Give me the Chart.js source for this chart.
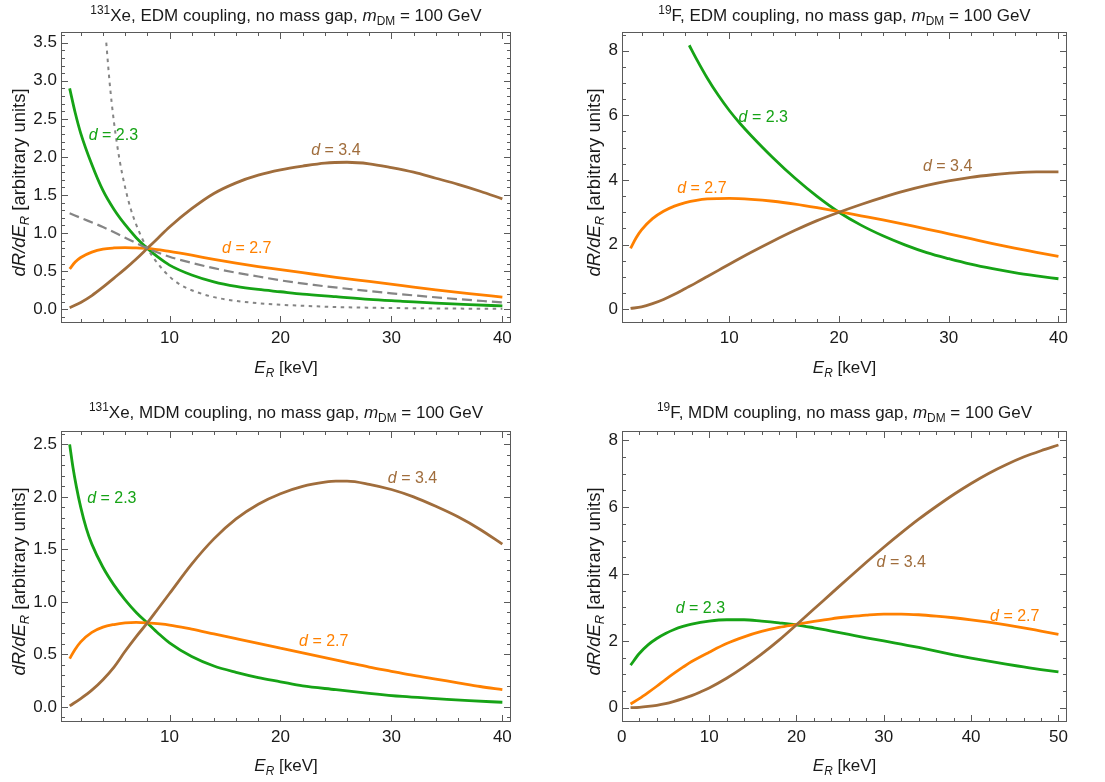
<!DOCTYPE html>
<html><head><meta charset="utf-8">
<script src="https://cdn.jsdelivr.net/npm/chart.js@4.4.0/dist/chart.umd.min.js"></script>
<style>
html,body{margin:0;padding:0;background:#fff;}
#wrap{position:relative;width:1105px;height:782px;overflow:hidden;background:#fff;}
canvas{position:absolute;}
</style></head><body>
<div id="wrap">
<canvas id="c1" width="552" height="391" style="left:0;top:0"></canvas>
<canvas id="c2" width="553" height="391" style="left:552px;top:0"></canvas>
<canvas id="c3" width="552" height="391" style="left:0;top:391px"></canvas>
<canvas id="c4" width="553" height="391" style="left:552px;top:391px"></canvas>
</div>
<script>
// ---------------- DATA ----------------
// Panel A: 131Xe, EDM coupling
const A_x23 = [1,1.5,2,3,4,5,6,7,8,9,10,12,14,16,18,20,22,25,28,31,34,37,40];
const A_y23 = [2.90,2.58,2.31,1.90,1.56,1.31,1.11,0.94,0.80,0.68,0.58,0.45,0.36,0.30,0.26,0.23,0.20,0.165,0.13,0.105,0.08,0.06,0.045];
const A_x27 = [1,1.5,2,3,4,5,6,7,8,10,12,14,16,18,20,22,25,28,31,34,37,40];
const A_y27 = [0.53,0.62,0.68,0.75,0.79,0.805,0.81,0.805,0.80,0.76,0.71,0.655,0.605,0.56,0.52,0.48,0.42,0.365,0.31,0.255,0.205,0.16];
const A_x34 = [1,2,3,4,5,6,7,8,9,10,12,14,16,18,20,22,24,26,28,30,32,34,36,38,40];
const A_y34 = [0.02,0.09,0.18,0.29,0.41,0.53,0.66,0.80,0.94,1.08,1.32,1.52,1.66,1.76,1.83,1.88,1.92,1.93,1.91,1.86,1.80,1.72,1.64,1.55,1.45];
const A_xDash = [1,2,4,6,8,10,12,14,16,18,20,23,26,30,35,40];
const A_yDash = [1.26,1.20,1.08,0.94,0.80,0.69,0.61,0.54,0.48,0.43,0.38,0.32,0.27,0.21,0.145,0.09];
const A_xDot = [4.3,4.6,5,5.5,6,6.5,7,7.5,8,9,10,11,12,14,16,18,20,25,30,35,40];
const A_yDot = [3.5,2.98,2.45,1.96,1.60,1.32,1.11,0.94,0.80,0.59,0.43,0.32,0.25,0.16,0.11,0.08,0.06,0.03,0.017,0.01,0.006];
const A_xticks = [10,20,30,40];
const A_yticks = [0,0.5,1,1.5,2,2.5,3,3.5];

// Panel B: 19F, EDM coupling
const B_x23 = [6.35,7,8,9,10,11,12,14,16,18,20,22,24,26,28,30,32,34,36,38,40];
const B_y23 = [8.17,7.75,7.15,6.62,6.15,5.74,5.37,4.68,4.05,3.49,3.00,2.60,2.27,1.99,1.75,1.56,1.39,1.25,1.13,1.03,0.94];
const B_x27 = [1,1.5,2,3,4,5,6,7,8,10,12,14,16,18,20,22,24,26,28,30,32,34,36,38,40];
const B_y27 = [1.88,2.20,2.45,2.80,3.03,3.19,3.30,3.37,3.41,3.43,3.40,3.34,3.25,3.14,3.02,2.89,2.76,2.62,2.48,2.33,2.18,2.03,1.89,1.76,1.63];
const B_x34 = [1,2,3,4,5,6,7,8,9,10,12,14,16,18,20,22,24,26,28,30,32,34,36,38,40];
const B_y34 = [0.02,0.07,0.17,0.30,0.46,0.64,0.82,1.01,1.20,1.39,1.76,2.11,2.44,2.74,3.00,3.24,3.46,3.66,3.83,3.97,4.08,4.16,4.22,4.25,4.25];
const B_xticks = [10,20,30,40];
const B_yticks = [0,2,4,6,8];

// Panel C: 131Xe, MDM coupling
const C_x23 = [1,1.3,1.6,2,2.5,3,4,5,6,7,8,9,10,12,14,16,18,20,22,25,28,31,34,37,40];
const C_y23 = [2.50,2.28,2.10,1.90,1.70,1.55,1.33,1.16,1.02,0.90,0.80,0.70,0.61,0.48,0.39,0.33,0.28,0.24,0.20,0.165,0.13,0.10,0.08,0.06,0.045];
const C_x27 = [1,1.5,2,3,4,5,6,7,8,10,12,14,16,18,20,22,24,26,28,30,32,34,36,38,40];
const C_y27 = [0.46,0.55,0.62,0.71,0.76,0.785,0.80,0.805,0.80,0.78,0.74,0.695,0.65,0.605,0.56,0.515,0.47,0.425,0.38,0.34,0.30,0.265,0.23,0.195,0.165];
const C_x34 = [1,2,3,4,5,6,7,8,9,10,12,14,16,18,20,22,24,25,26,28,30,32,34,36,38,40];
const C_y34 = [0.01,0.08,0.16,0.26,0.38,0.53,0.67,0.80,0.94,1.08,1.36,1.60,1.79,1.93,2.03,2.10,2.14,2.15,2.15,2.12,2.07,2.00,1.91,1.81,1.69,1.55];
const C_xticks = [10,20,30,40];
const C_yticks = [0,0.5,1,1.5,2,2.5];

// Panel D: 19F, MDM coupling
const D_x23 = [1,2,3,4,5,6,7,8,10,12,14,16,18,20,22,24,26,28,30,32,34,36,38,40,42,44,46,48,50];
const D_y23 = [1.27,1.62,1.88,2.07,2.22,2.34,2.43,2.50,2.59,2.63,2.63,2.59,2.54,2.48,2.39,2.29,2.19,2.09,2.00,1.90,1.80,1.69,1.58,1.48,1.39,1.30,1.22,1.14,1.07];
const D_x27 = [1,2,3,4,5,6,7,8,10,12,14,16,18,20,22,24,26,28,30,32,34,36,38,40,42,44,46,48,50];
const D_y27 = [0.11,0.27,0.45,0.64,0.84,1.03,1.21,1.38,1.66,1.92,2.12,2.28,2.40,2.49,2.58,2.66,2.72,2.77,2.80,2.80,2.78,2.74,2.69,2.63,2.56,2.48,2.39,2.29,2.19];
const D_x34 = [1,2,3,4,5,6,7,8,9,10,12,14,16,18,20,22,24,26,28,30,32,34,36,38,40,42,44,46,48,50];
const D_y34 = [0.0,0.01,0.035,0.07,0.12,0.19,0.27,0.36,0.47,0.59,0.88,1.22,1.60,2.02,2.48,2.95,3.42,3.89,4.35,4.80,5.23,5.64,6.02,6.38,6.71,7.01,7.27,7.50,7.69,7.86];
const D_xticks = [0,10,20,30,40,50];
const D_yticks = [0,2,4,6,8];

// Text
const TITLE_A = [{t:'131',sup:1},{t:'Xe, EDM coupling, no mass gap, '},{t:'m',it:1},{t:'DM',sub:1},{t:' = 100 GeV'}];
const TITLE_B = [{t:'19',sup:1},{t:'F, EDM coupling, no mass gap, '},{t:'m',it:1},{t:'DM',sub:1},{t:' = 100 GeV'}];
const TITLE_C = [{t:'131',sup:1},{t:'Xe, MDM coupling, no mass gap, '},{t:'m',it:1},{t:'DM',sub:1},{t:' = 100 GeV'}];
const TITLE_D = [{t:'19',sup:1},{t:'F, MDM coupling, no mass gap, '},{t:'m',it:1},{t:'DM',sub:1},{t:' = 100 GeV'}];
const X_TITLE = [{t:'E',it:1},{t:'R',it:1,sub:1},{t:' [keV]'}];
const Y_TITLE = [{t:'dR/dE',it:1},{t:'R',it:1,sub:1},{t:' [arbitrary units]'}];
const LBL_23 = [{t:'d',it:1},{t:' = 2.3'}];
const LBL_27 = [{t:'d',it:1},{t:' = 2.7'}];
const LBL_34 = [{t:'d',it:1},{t:' = 3.4'}];

// ---------------- STYLE ----------------
const FONT = "'Liberation Sans', Arial, Helvetica, sans-serif";
const GREEN = '#16a316', ORANGE = '#ff8000', BROWN = '#a06d3c', GRAY = '#858585';
const FRAME = '#5a5a5a', TEXT = '#1a1a1a';

function pts(xs, ys){ return xs.map((x,i)=>({x:x, y:ys[i]})); }
function line(xs, ys, color, extra){
  return Object.assign({data: pts(xs,ys), borderColor: color, borderWidth: 2.8, pointRadius: 0,
    fill: false, cubicInterpolationMode: 'monotone', borderCapStyle: 'butt'}, extra||{});
}
function segFont(s, size){
  const sz = (s.sup||s.sub) ? size*0.7 : size;
  return (s.it ? 'italic ' : '') + sz.toFixed(2) + 'px ' + FONT;
}
function drawRich(ctx, segs, cx, cy, size, color, rot){
  ctx.save();
  ctx.translate(cx, cy); if (rot) ctx.rotate(rot);
  let w = 0;
  for (const s of segs){ ctx.font = segFont(s,size); w += ctx.measureText(s.t).width; }
  let x = -w/2; const base = size*0.36;
  ctx.fillStyle = color; ctx.textBaseline = 'alphabetic'; ctx.textAlign = 'left';
  for (const s of segs){
    ctx.font = segFont(s,size);
    const dy = s.sup ? -size*0.40 : (s.sub ? size*0.22 : 0);
    ctx.fillText(s.t, x, base+dy);
    x += ctx.measureText(s.t).width;
  }
  ctx.restore();
}
function steps(min, max, step){
  const out = []; let v = Math.ceil(min/step - 1e-9);
  for (; v*step <= max + 1e-9; v++) out.push(+(v*step).toFixed(6));
  return out;
}

const panels = [
 { id:'c1', w:552, h:391, f:{l:61,t:32,r:511,b:323}, xr:[0.22,40.78], yr:[-0.18,3.64],
   xt:A_xticks, yt:A_yticks, xm:2, ym:0.1, dec:1, title:TITLE_A, titleY:15, xTitleY:367, yTitleX:18,
   ds:[ line(A_xDot,A_yDot,GRAY,{borderWidth:2,borderDash:[3.5,4.5]}),
        line(A_xDash,A_yDash,GRAY,{borderWidth:2.2,borderDash:[10,5]}),
        line(A_x34,A_y34,BROWN), line(A_x27,A_y27,ORANGE), line(A_x23,A_y23,GREEN) ],
   labels:[ {s:LBL_23,x:4.94,y:2.30,c:GREEN}, {s:LBL_34,x:25.0,y:2.10,c:BROWN}, {s:LBL_27,x:16.96,y:0.81,c:ORANGE} ] },
 { id:'c2', w:553, h:391, f:{l:70,t:32,r:515,b:323}, xr:[0.22,40.78], yr:[-0.43,8.58],
   xt:B_xticks, yt:B_yticks, xm:2, ym:0.5, dec:0, title:TITLE_B, titleY:15, xTitleY:367, yTitleX:41,
   ds:[ line(B_x34,B_y34,BROWN), line(B_x27,B_y27,ORANGE), line(B_x23,B_y23,GREEN) ],
   labels:[ {s:LBL_23,x:13.1,y:5.98,c:GREEN}, {s:LBL_27,x:7.5,y:3.78,c:ORANGE}, {s:LBL_34,x:29.9,y:4.47,c:BROWN} ] },
 { id:'c3', w:552, h:391, f:{l:61,t:40,r:511,b:331}, xr:[0.22,40.78], yr:[-0.143,2.627],
   xt:C_xticks, yt:C_yticks, xm:2, ym:0.1, dec:1, title:TITLE_C, titleY:20.7, xTitleY:374, yTitleX:18,
   ds:[ line(C_x34,C_y34,BROWN), line(C_x27,C_y27,ORANGE), line(C_x23,C_y23,GREEN) ],
   labels:[ {s:LBL_23,x:4.8,y:2.0,c:GREEN}, {s:LBL_34,x:31.9,y:2.19,c:BROWN}, {s:LBL_27,x:23.9,y:0.64,c:ORANGE} ] },
 { id:'c4', w:553, h:391, f:{l:70,t:40,r:515,b:331}, xr:[0.02,50.98], yr:[-0.43,8.28],
   xt:D_xticks, yt:D_yticks, xm:2, ym:0.5, dec:0, title:TITLE_D, titleY:20.7, xTitleY:374, yTitleX:41,
   ds:[ line(D_x34,D_y34,BROWN), line(D_x27,D_y27,ORANGE), line(D_x23,D_y23,GREEN) ],
   labels:[ {s:LBL_23,x:9.0,y:3.0,c:GREEN}, {s:LBL_34,x:32.0,y:4.39,c:BROWN}, {s:LBL_27,x:45.0,y:2.78,c:ORANGE} ] }
];

function decor(p){
  return {
    id: 'decor_'+p.id,
    afterDraw(chart){
      const ctx = chart.ctx, a = chart.chartArea, xs = chart.scales.x, ys = chart.scales.y;
      ctx.save();
      ctx.strokeStyle = FRAME; ctx.lineWidth = 1;
      const xAll = steps(p.xr[0], p.xr[1], p.xm);
      ctx.beginPath();
      for (const v of xAll){
        const px = Math.round(xs.getPixelForValue(v)) + 0.5;
        const len = p.xt.indexOf(v) >= 0 ? 7 : 4;
        ctx.moveTo(px, a.bottom); ctx.lineTo(px, a.bottom - len);
        ctx.moveTo(px, a.top); ctx.lineTo(px, a.top + len);
      }
      const yAll = steps(p.yr[0], p.yr[1], p.ym);
      for (const v of yAll){
        const py = Math.round(ys.getPixelForValue(v)) + 0.5;
        const maj = p.yt.some(t => Math.abs(t - v) < 1e-6);
        const len = maj ? 7 : 4;
        ctx.moveTo(a.left, py); ctx.lineTo(a.left + len, py);
        ctx.moveTo(a.right, py); ctx.lineTo(a.right - len, py);
      }
      ctx.stroke();
      ctx.strokeRect(a.left + 0.5, a.top + 0.5, a.right - a.left - 1, a.bottom - a.top - 1);
      ctx.restore();
      for (const L of p.labels){
        drawRich(ctx, L.s, xs.getPixelForValue(L.x), ys.getPixelForValue(L.y), 16, L.c, 0);
      }
      const cx = (a.left + a.right)/2;
      drawRich(ctx, p.title, cx, p.titleY, 17, TEXT, 0);
      drawRich(ctx, X_TITLE, cx, p.xTitleY, 17, TEXT, 0);
      drawRich(ctx, Y_TITLE, p.yTitleX, (a.top + a.bottom)/2 + 5, 18.5, TEXT, -Math.PI/2);
    }
  };
}

for (const p of panels){
  new Chart(document.getElementById(p.id), {
    type: 'line',
    data: { datasets: p.ds },
    options: {
      responsive: false, animation: false, devicePixelRatio: 1,
      layout: { padding: { left: 0, top: p.f.t, right: p.w - p.f.r, bottom: 0 } },
      plugins: { legend: {display:false}, tooltip: {enabled:false}, title: {display:false} },
      scales: {
        x: { type:'linear', min:p.xr[0], max:p.xr[1],
             grid:{display:false, drawTicks:false}, border:{display:false},
             afterBuildTicks: s => { s.ticks = p.xt.map(v => ({value:v})); },
             afterFit: s => { s.height = p.h - p.f.b; },
             ticks:{ font:{family:FONT, size:17}, color:TEXT, padding:5, maxRotation:0, autoSkip:false,
                     callback: v => String(v) } },
        y: { type:'linear', min:p.yr[0], max:p.yr[1],
             grid:{display:false, drawTicks:false}, border:{display:false},
             afterBuildTicks: s => { s.ticks = p.yt.map(v => ({value:v})); },
             afterFit: s => { s.width = p.f.l; },
             ticks:{ font:{family:FONT, size:17}, color:TEXT, padding:4, autoSkip:false,
                     callback: v => Number(v).toFixed(p.dec) } }
      }
    },
    plugins: [decor(p)]
  });
}
</script>
</body></html>
